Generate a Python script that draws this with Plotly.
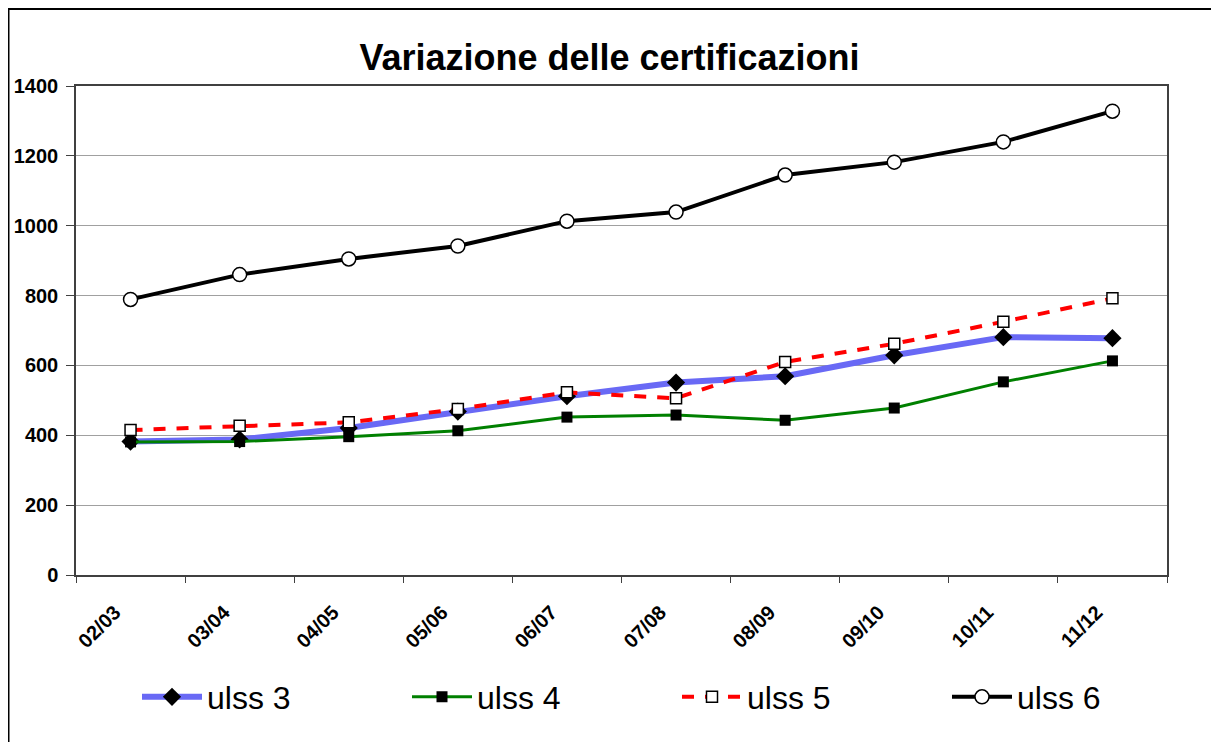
import plotly.graph_objects as go

years = ["02/03", "03/04", "04/05", "05/06", "06/07", "07/08", "08/09", "09/10", "10/11", "11/12"]
ulss3 = [382, 388, 421, 468, 512, 551, 569, 629, 681, 678]
ulss4 = [381, 382, 396, 413, 452, 458, 443, 478, 553, 613]
ulss5 = [415, 427, 437, 475, 523, 506, 610, 662, 725, 792]
ulss6 = [789, 860, 905, 942, 1013, 1039, 1145, 1182, 1240, 1328]
yticks = [0, 200, 400, 600, 800, 1000, 1200, 1400]

FONT = "Arial, 'Liberation Sans', sans-serif"

# page body has an 8px margin: figure pixel = page pixel - 8
W, H = 1211, 734
L, R, T, B = 68, 1159, 78, 567
PW, PH = R - L, B - T

fig = go.Figure()
fig.add_trace(go.Scatter(
    x=years, y=ulss3, name="ulss 3", mode="lines+markers",
    line=dict(color="rgb(105,105,245)", width=6),
    marker=dict(symbol="diamond", size=14, color="black", line=dict(width=0)),
))
fig.add_trace(go.Scatter(
    x=years, y=ulss4, name="ulss 4", mode="lines+markers",
    line=dict(color="#008000", width=3),
    marker=dict(symbol="square", size=11, color="black", line=dict(width=0)),
))
fig.add_trace(go.Scatter(
    x=years, y=ulss5, name="ulss 5", mode="lines+markers",
    line=dict(color="#ff0000", width=4, dash="12px,11px"),
    marker=dict(symbol="square", size=11, color="white", line=dict(color="black", width=1.5)),
))
fig.add_trace(go.Scatter(
    x=years, y=ulss6, name="ulss 6", mode="lines+markers",
    line=dict(color="black", width=4),
    marker=dict(symbol="circle", size=14, color="white", line=dict(color="black", width=1.5)),
))

fig.update_layout(
    width=W, height=H,
    margin=dict(l=L, r=W - R, t=T, b=H - B, autoexpand=False),
    paper_bgcolor="white", plot_bgcolor="white",
    font=dict(family=FONT, color="black"),
    title=dict(text="<b>Variazione delle certificazioni</b>", x=(609.5 - 8) / W, xref="container",
               y=1 - 49 / H, yanchor="middle", xanchor="center",
               font=dict(size=36, family=FONT, color="black")),
    showlegend=True,
    legend=dict(orientation="h", x=(137 - 8 - L) / PW, xanchor="left",
                y=-(697 - 8 - B) / PH, yanchor="middle", itemwidth=60,
                font=dict(size=32, family=FONT), entrywidth=195, bgcolor="rgba(0,0,0,0)"),
    xaxis=dict(
        type="category", range=[-0.5, 9.5], tickson="boundaries",
        tickvals=years, ticktext=[y + "\u00a0" * 4 for y in years],
        ticks="outside", ticklen=6, tickcolor="#404040", tickwidth=1,
        showline=True, linecolor="#404040", linewidth=2, mirror=True,
        showgrid=False, tickangle=-45, ticklabelstandoff=0,
        tickfont=dict(size=20, family=FONT, weight="bold"),
    ),
    yaxis=dict(
        range=[0, 1400], tickvals=yticks, ticks="outside", ticklen=8,
        tickcolor="#404040", showline=True, linecolor="#404040", linewidth=1.5, mirror=True,
        showgrid=True, gridcolor="#a0a0a0", gridwidth=1, zeroline=False,
        ticklabelstandoff=4,
        tickfont=dict(size=20, family=FONT, weight="bold"),
    ),
    shapes=[
        dict(type="line", xref="paper", yref="paper",
             x0=(0 - L) / PW, x1=(W + 10 - L) / PW,
             y0=(B - 1) / PH, y1=(B - 1) / PH,
             line=dict(color="black", width=2)),
        dict(type="line", xref="paper", yref="paper",
             x0=(0.5 - L) / PW, x1=(0.5 - L) / PW,
             y0=(B - 0) / PH, y1=(B - H - 10) / PH,
             line=dict(color="black", width=2)),
    ],
)

fig.write_html("out.html")
